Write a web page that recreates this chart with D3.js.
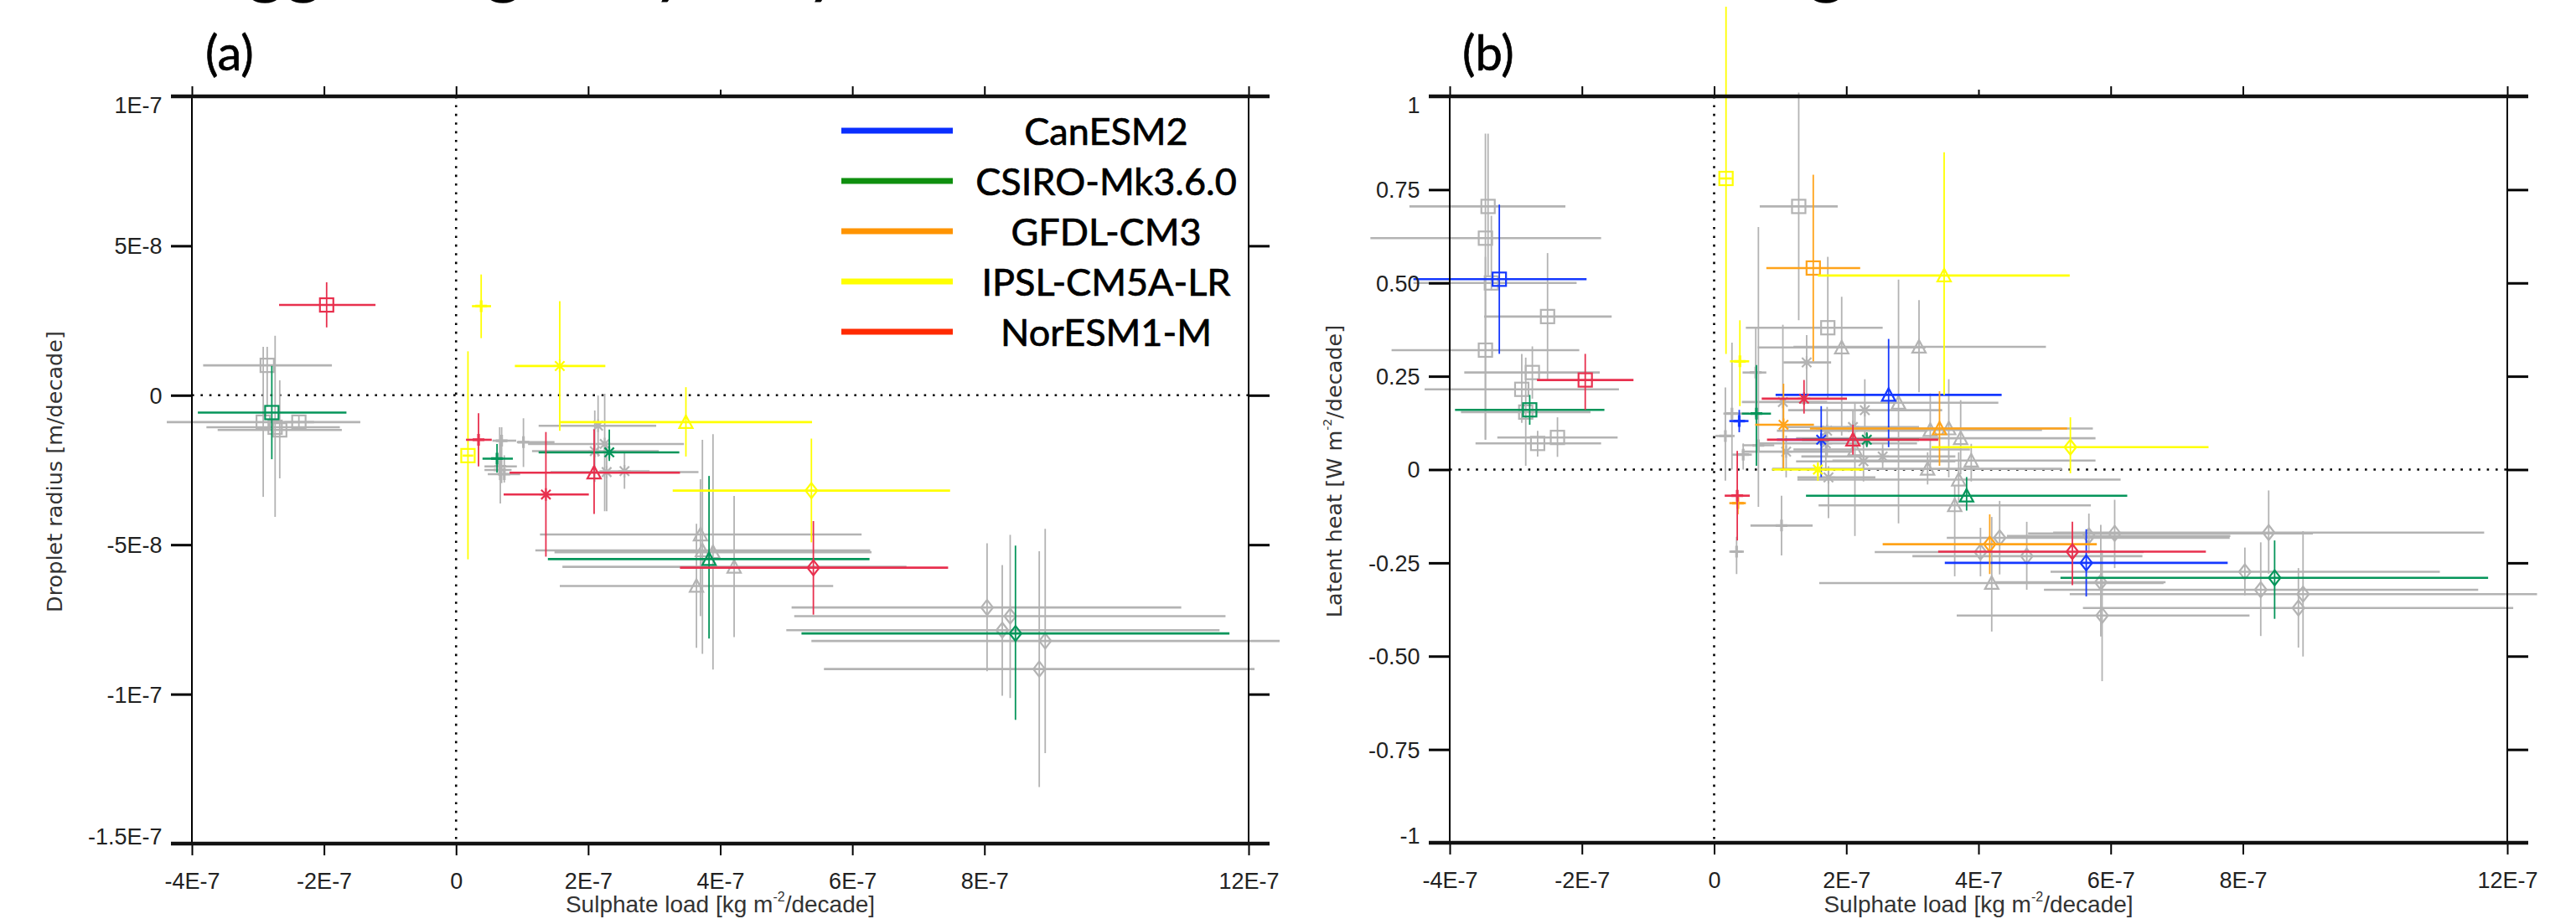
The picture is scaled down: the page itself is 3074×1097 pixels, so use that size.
<!DOCTYPE html>
<html>
<head>
<meta charset="utf-8">
<script src="https://cdn.jsdelivr.net/npm/d3@7"></script>
<style>
  body { margin: 0; background: #fff; }
  svg { display: block; }
</style>
</head>
<body>
<svg id="fig" width="3074" height="1097"></svg>
<script>
// models and colours
const models = ['CanESM2', 'CSIRO-Mk3.6.0', 'GFDL-CM3', 'IPSL-CM5A-LR', 'NorESM1-M'];
const legendColors = ['#0a2eff', '#0f8f0f', '#ff9400', '#ffff00', '#ff2a00'];
const markColors = ['#1538ff', '#05955a', '#ffa31a', '#ffff00', '#e8304e'];
const greyColor = '#b3b3b3';

// x axis: sulphate load, in units of 1E-7
const xTicks = [-4, -2, 0, 2, 4, 6, 8, 12];
const xTickLabels = ['-4E-7', '-2E-7', '0', '2E-7', '4E-7', '6E-7', '8E-7', '12E-7'];

// (a) droplet radius, in units of 1E-8
const yTicksA = [10, 5, 0, -5, -10, -15];
const yTickLabelsA = ['1E-7', '5E-8', '0', '-5E-8', '-1E-7', '-1.5E-7'];
// (b) latent heat
const yTicksB = [1, 0.75, 0.5, 0.25, 0, -0.25, -0.5, -0.75, -1];
const yTickLabelsB = ['1', '0.75', '0.50', '0.25', '0', '-0.25', '-0.50', '-0.75', '-1'];

// rows: model, marker, x, x low, x high, y, y low, y high
const pointsA = [
  ['grey', 'square', -2.86, -3.83, -1.88, 1.00, -0.39, 1.62],
  ['grey', 'square', -2.92, -4.38, -1.45, -0.90, -3.40, 1.62],
  ['grey', 'square', -2.74, -3.78, -1.76, -1.07, -4.07, 1.99],
  ['grey', 'square', -2.67, -3.61, -1.73, -1.16, -2.78, 0.50],
  ['grey', 'square', -2.38, -2.60, -2.15, -0.90, -1.10, -0.70],
  ['grey', 'plus', 0.69, 0.55, 0.91, -1.52, -2.94, -1.07],
  ['grey', 'plus', 1.02, 0.92, 1.49, -1.57, -2.40, -0.77],
  ['grey', 'plus', 0.67, 0.43, 0.92, -2.38, -3.62, -1.63],
  ['grey', 'plus', 0.66, 0.43, 0.84, -2.50, -2.84, -1.07],
  ['grey', 'plus', 0.73, 0.48, 0.97, -2.64, -2.92, -2.01],
  ['grey', 'asterisk', 2.15, 1.25, 3.03, -1.02, -2.05, -0.01],
  ['grey', 'asterisk', 2.25, 1.09, 3.45, -1.63, -3.88, 0.05],
  ['grey', 'asterisk', 2.10, 1.15, 3.07, -1.87, -2.90, -0.51],
  ['grey', 'asterisk', 2.28, 1.43, 3.67, -2.57, -3.88, -1.63],
  ['grey', 'asterisk', 2.55, 2.17, 2.93, -2.54, -3.13, -1.91],
  ['grey', 'triangle', 3.70, 1.27, 6.14, -4.66, -7.39, -2.81],
  ['grey', 'triangle', 3.73, 1.20, 6.27, -5.19, -8.65, -1.49],
  ['grey', 'triangle', 3.89, 1.49, 6.29, -5.25, -9.18, -1.30],
  ['grey', 'triangle', 4.21, 1.61, 6.82, -5.74, -8.09, -3.37],
  ['grey', 'triangle', 3.64, 1.57, 5.71, -6.38, -8.45, -4.30],
  ['grey', 'diamond', 8.04, 5.08, 10.98, -7.10, -9.23, -4.95],
  ['grey', 'diamond', 8.39, 5.12, 11.65, -7.39, -10.13, -4.67],
  ['grey', 'diamond', 8.27, 5.00, 11.56, -7.86, -10.05, -5.68],
  ['grey', 'diamond', 8.92, 5.38, 12.47, -8.22, -11.97, -4.47],
  ['grey', 'diamond', 8.83, 5.57, 12.09, -9.16, -13.11, -5.22],
  ['CSIRO-Mk3.6.0', 'square', -2.79, -3.91, -1.66, -0.58, -2.14, 0.98],
  ['CSIRO-Mk3.6.0', 'plus', 0.62, 0.40, 0.86, -2.12, -2.59, -1.63],
  ['CSIRO-Mk3.6.0', 'asterisk', 2.32, 1.25, 3.38, -1.91, -2.20, -1.15],
  ['CSIRO-Mk3.6.0', 'triangle', 3.83, 1.39, 6.26, -5.48, -8.14, -2.70],
  ['CSIRO-Mk3.6.0', 'diamond', 8.47, 5.23, 11.71, -7.97, -10.86, -5.03],
  ['IPSL-CM5A-LR', 'plus', 0.38, 0.24, 0.53, 2.98, 1.91, 4.04],
  ['IPSL-CM5A-LR', 'square', 0.18, 0.10, 0.26, -2.02, -5.49, 1.47],
  ['IPSL-CM5A-LR', 'asterisk', 1.57, 0.89, 2.26, 0.98, -1.19, 3.15],
  ['IPSL-CM5A-LR', 'triangle', 3.48, 1.57, 5.39, -0.90, -2.05, 0.27],
  ['IPSL-CM5A-LR', 'diamond', 5.38, 3.28, 7.48, -3.19, -4.92, -1.45],
  ['NorESM1-M', 'square', -1.96, -2.68, -1.22, 3.02, 2.27, 3.78],
  ['NorESM1-M', 'plus', 0.34, 0.15, 0.54, -1.49, -2.38, -0.60],
  ['NorESM1-M', 'asterisk', 1.36, 0.72, 2.01, -3.32, -5.40, -1.23],
  ['NorESM1-M', 'triangle', 2.09, 0.81, 3.39, -2.59, -3.97, -1.14],
  ['NorESM1-M', 'diamond', 5.41, 3.39, 7.45, -5.77, -7.34, -4.21]
];

const pointsB = [
  ['grey', 'square', -3.42, -4.61, -2.25, 0.705, 0.52, 0.90],
  ['grey', 'square', -3.46, -5.20, -1.71, 0.62, 0.08, 0.90],
  ['grey', 'square', -3.37, -4.55, -2.08, 0.50, 0.48, 0.68],
  ['grey', 'square', -2.52, -3.48, -1.55, 0.41, 0.24, 0.58],
  ['grey', 'square', -3.46, -4.88, -2.04, 0.32, 0.08, 0.57],
  ['grey', 'square', -2.75, -3.78, -1.73, 0.26, 0.19, 0.33],
  ['grey', 'square', -2.91, -4.38, -1.44, 0.215, 0.125, 0.31],
  ['grey', 'square', -2.85, -3.83, -1.87, 0.154, 0.01, 0.30],
  ['grey', 'square', -2.37, -3.28, -1.46, 0.086, 0.034, 0.14],
  ['grey', 'square', -2.67, -3.61, -1.71, 0.070, 0.035, 0.104],
  ['grey', 'square', 1.28, 0.69, 1.87, 0.705, 0.40, 1.01],
  ['grey', 'square', 1.72, 0.48, 2.55, 0.38, 0.19, 0.57],
  ['grey', 'plus', 0.17, 0.02, 0.31, 0.09, -0.03, 0.22],
  ['grey', 'plus', 0.44, 0.27, 0.57, 0.04, 0.00, 0.07],
  ['grey', 'plus', 0.27, 0.14, 0.53, 0.15, 0.00, 0.34],
  ['grey', 'plus', 0.67, 0.43, 0.91, 0.065, -0.10, 0.65],
  ['grey', 'plus', 0.34, 0.23, 0.45, -0.22, -0.28, -0.18],
  ['grey', 'plus', 1.02, 0.55, 1.49, -0.15, -0.23, -0.07],
  ['grey', 'plus', 0.63, 0.43, 0.79, 0.26, 0.14, 0.38],
  ['grey', 'asterisk', 1.71, 0.95, 3.23, 0.104, 0.035, 0.168],
  ['grey', 'asterisk', 1.69, 0.69, 3.07, 0.070, 0.00, 0.114],
  ['grey', 'asterisk', 2.10, 1.07, 3.10, 0.114, 0.080, 0.159],
  ['grey', 'asterisk', 2.26, 1.24, 3.65, 0.022, -0.032, 0.069],
  ['grey', 'asterisk', 2.55, 1.32, 3.65, 0.035, 0.00, 0.069],
  ['grey', 'asterisk', 1.09, 0.42, 2.09, 0.048, -0.021, 0.091],
  ['grey', 'asterisk', 1.73, 1.26, 2.44, -0.021, -0.13, 0.009],
  ['grey', 'asterisk', 1.40, 1.05, 1.77, 0.287, 0.203, 0.360],
  ['grey', 'asterisk', 1.04, 0.42, 1.71, 0.181, 0.00, 0.388],
  ['grey', 'asterisk', 2.28, 1.12, 3.45, 0.159, 0.091, 0.242],
  ['grey', 'triangle', 1.93, 0.66, 3.20, 0.327, 0.091, 0.463],
  ['grey', 'triangle', 3.10, 1.20, 5.02, 0.329, 0.207, 0.454],
  ['grey', 'triangle', 2.79, 1.29, 4.30, 0.179, -0.144, 0.509],
  ['grey', 'triangle', 3.27, 1.58, 4.96, 0.106, 0.002, 0.204],
  ['grey', 'triangle', 3.55, 1.54, 5.73, 0.110, -0.021, 0.242],
  ['grey', 'triangle', 3.73, 1.24, 5.77, 0.084, -0.013, 0.186],
  ['grey', 'triangle', 3.89, 1.79, 5.77, 0.024, -0.032, 0.069],
  ['grey', 'triangle', 3.23, 0.88, 5.26, 0.002, -0.040, 0.046],
  ['grey', 'triangle', 3.70, 1.26, 6.15, -0.027, -0.088, 0.046],
  ['grey', 'triangle', 3.64, 1.58, 5.70, -0.096, -0.286, -0.044],
  ['grey', 'triangle', 4.20, 1.59, 6.80, -0.304, -0.434, -0.127],
  ['grey', 'triangle', 2.13, 1.20, 3.87, 0.054, -0.178, 0.181],
  ['grey', 'diamond', 4.03, 2.43, 6.50, -0.221, -0.286, -0.156],
  ['grey', 'diamond', 4.32, 3.52, 7.80, -0.183, -0.281, -0.084],
  ['grey', 'diamond', 4.73, 3.00, 6.48, -0.232, -0.322, -0.140],
  ['grey', 'diamond', 5.67, 4.43, 7.81, -0.178, -0.225, -0.118],
  ['grey', 'diamond', 6.06, 4.75, 9.06, -0.171, -0.264, -0.081],
  ['grey', 'diamond', 8.03, 5.09, 10.98, -0.274, -0.337, -0.209],
  ['grey', 'diamond', 8.39, 5.13, 11.65, -0.169, -0.279, -0.056],
  ['grey', 'diamond', 8.27, 4.99, 11.56, -0.322, -0.446, -0.195],
  ['grey', 'diamond', 8.91, 5.38, 12.45, -0.334, -0.501, -0.165],
  ['grey', 'diamond', 8.84, 5.58, 12.09, -0.371, -0.477, -0.264],
  ['grey', 'diamond', 5.85, 4.25, 6.83, -0.302, -0.447, -0.148],
  ['grey', 'diamond', 5.87, 3.67, 8.10, -0.391, -0.567, -0.216],
  ['CanESM2', 'square', -3.25, -4.55, -1.93, 0.51, 0.31, 0.71],
  ['CanESM2', 'plus', 0.38, 0.23, 0.52, 0.13, 0.10, 0.16],
  ['CanESM2', 'asterisk', 1.62, 0.95, 2.28, 0.08, -0.02, 0.17],
  ['CanESM2', 'triangle', 2.64, 0.93, 4.35, 0.20, 0.06, 0.35],
  ['CanESM2', 'diamond', 5.63, 3.49, 7.77, -0.25, -0.34, -0.16],
  ['CSIRO-Mk3.6.0', 'square', -2.79, -3.92, -1.66, 0.16, 0.12, 0.20],
  ['CSIRO-Mk3.6.0', 'plus', 0.64, 0.42, 0.86, 0.15, 0.01, 0.28],
  ['CSIRO-Mk3.6.0', 'asterisk', 2.31, 1.33, 3.10, 0.08, 0.06, 0.10],
  ['CSIRO-Mk3.6.0', 'triangle', 3.82, 1.39, 6.25, -0.07, -0.11, -0.02],
  ['CSIRO-Mk3.6.0', 'diamond', 8.48, 5.24, 11.71, -0.29, -0.40, -0.19],
  ['GFDL-CM3', 'square', 1.50, 0.79, 2.21, 0.54, 0.29, 0.79],
  ['GFDL-CM3', 'plus', 0.36, 0.23, 0.48, -0.09, -0.12, -0.07],
  ['GFDL-CM3', 'asterisk', 1.05, 0.62, 1.51, 0.12, 0.00, 0.23],
  ['GFDL-CM3', 'triangle', 3.41, 1.45, 5.34, 0.11, 0.01, 0.21],
  ['GFDL-CM3', 'diamond', 4.17, 2.55, 5.79, -0.20, -0.28, -0.12],
  ['IPSL-CM5A-LR', 'square', 0.18, 0.09, 0.27, 0.78, 0.31, 1.24],
  ['IPSL-CM5A-LR', 'plus', 0.39, 0.24, 0.53, 0.29, 0.17, 0.40],
  ['IPSL-CM5A-LR', 'asterisk', 1.57, 0.88, 2.26, 0.00, -0.03, 0.02],
  ['IPSL-CM5A-LR', 'triangle', 3.48, 1.57, 5.38, 0.52, 0.20, 0.85],
  ['IPSL-CM5A-LR', 'diamond', 5.39, 3.29, 7.48, 0.06, -0.01, 0.14],
  ['NorESM1-M', 'square', -1.95, -2.68, -1.22, 0.24, 0.16, 0.31],
  ['NorESM1-M', 'plus', 0.35, 0.16, 0.54, -0.07, -0.19, 0.05],
  ['NorESM1-M', 'asterisk', 1.36, 0.72, 2.01, 0.19, 0.15, 0.24],
  ['NorESM1-M', 'triangle', 2.10, 0.80, 3.39, 0.08, 0.04, 0.12],
  ['NorESM1-M', 'diamond', 5.42, 3.39, 7.44, -0.22, -0.31, -0.14]
];

const tickFont = '"Liberation Sans", Arial, Helvetica, sans-serif';
const titleFont = '"DejaVu Sans", Verdana, sans-serif';
const labelFont = 'Lato, "Open Sans", sans-serif';

const svg = d3.select('#fig');

const panels = [
  { left: 229, right: 1490, top: 115, bottom: 1007, yDomain: [-15, 10],
    yTicks: yTicksA, yTickLabels: yTickLabelsA, points: pointsA,
    label: '(a)', labelX: 245, yTitle: ['Droplet radius [m/decade]'], yTitleX: 74, legend: true },
  { left: 1730, right: 2992, top: 115, bottom: 1006, yDomain: [-1, 1],
    yTicks: yTicksB, yTickLabels: yTickLabelsB, points: pointsB,
    label: '(b)', labelX: 1745, yTitle: ['Latent heat [W m', '-2', '/decade]'], yTitleX: 1601, legend: false }
];

function colorOf(m) {
  const i = models.indexOf(m);
  return i < 0 ? greyColor : markColors[i];
}

function drawMarker(g, shape, cx, cy, color) {
  const w = 2.2;
  if (shape === 'square') {
    g.append('rect').attr('x', cx - 8).attr('y', cy - 8).attr('width', 16).attr('height', 16)
      .attr('fill', 'none').attr('stroke', color).attr('stroke-width', w);
  } else if (shape === 'triangle') {
    g.append('path').attr('d', `M${cx},${cy - 8}L${cx + 8},${cy + 7}L${cx - 8},${cy + 7}Z`)
      .attr('fill', 'none').attr('stroke', color).attr('stroke-width', w);
  } else if (shape === 'diamond') {
    g.append('path').attr('d', `M${cx},${cy - 9}L${cx + 7},${cy}L${cx},${cy + 9}L${cx - 7},${cy}Z`)
      .attr('fill', 'none').attr('stroke', color).attr('stroke-width', w);
  } else if (shape === 'plus') {
    g.append('path').attr('d', `M${cx - 7},${cy}H${cx + 7}M${cx},${cy - 7}V${cy + 7}`)
      .attr('stroke', color).attr('stroke-width', 3.2);
  } else if (shape === 'asterisk') {
    const a = 7.5, b = 5.6;
    g.append('path')
      .attr('d', `M${cx - a},${cy}H${cx + a}M${cx},${cy - a}V${cy + a}M${cx - b},${cy - b}L${cx + b},${cy + b}M${cx - b},${cy + b}L${cx + b},${cy - b}`)
      .attr('stroke', color).attr('stroke-width', w);
  }
}

function drawPanel(p) {
  const x = d3.scaleLinear().domain([-4, 12]).range([p.left, p.right]);
  const y = d3.scaleLinear().domain(p.yDomain).range([p.bottom, p.top]);
  const g = svg.append('g');

  // dotted zero lines
  g.append('line').attr('x1', p.left).attr('x2', p.right).attr('y1', y(0)).attr('y2', y(0))
    .attr('stroke', '#000').attr('stroke-width', 2.6).attr('stroke-dasharray', '2.6 7.8');
  g.append('line').attr('x1', x(0)).attr('x2', x(0)).attr('y1', p.top).attr('y2', p.bottom)
    .attr('stroke', '#000').attr('stroke-width', 2.6).attr('stroke-dasharray', '2.6 7.8');

  // grey members first, coloured models on top
  const ordered = p.points.filter(d => d[0] === 'grey').concat(p.points.filter(d => d[0] !== 'grey'));
  const marks = g.append('g');
  ordered.forEach(d => {
    const c = colorOf(d[0]);
    const pg = marks.append('g');
    pg.append('line').attr('x1', x(d[3])).attr('x2', x(d[4])).attr('y1', y(d[5])).attr('y2', y(d[5]))
      .attr('stroke', c).attr('stroke-width', 2.6);
    pg.append('line').attr('x1', x(d[2])).attr('x2', x(d[2])).attr('y1', y(d[6])).attr('y2', y(d[7]))
      .attr('stroke', c).attr('stroke-width', 1.8);
    drawMarker(pg, d[1], x(d[2]), y(d[5]), c);
  });

  // axes
  const bottomAxis = g.append('g').attr('transform', `translate(0,${p.bottom})`)
    .call(d3.axisBottom(x).tickValues(xTicks).tickFormat((d, i) => xTickLabels[i])
      .tickSize(14).tickSizeOuter(0).tickPadding(21));
  const topAxis = g.append('g').attr('transform', `translate(0,${p.top})`)
    .call(d3.axisTop(x).tickValues(xTicks).tickFormat('').tickSize(12).tickSizeOuter(0));
  topAxis.selectAll('.tick').filter(d => d === 4).select('line').attr('y2', -8);
  const leftAxis = g.append('g').attr('transform', `translate(${p.left},0)`)
    .call(d3.axisLeft(y).tickValues(p.yTicks).tickFormat((d, i) => p.yTickLabels[i])
      .tickSize(25).tickSizeOuter(0).tickPadding(10.5));
  const rightAxis = g.append('g').attr('transform', `translate(${p.right},0)`)
    .call(d3.axisRight(y).tickValues(p.yTicks).tickFormat('').tickSize(25).tickSizeOuter(0));

  [bottomAxis, topAxis, leftAxis, rightAxis].forEach(a => {
    a.select('.domain').remove();
    a.attr('font-family', tickFont).attr('font-size', 27);
    a.selectAll('text').attr('fill', '#222');
  });
  bottomAxis.selectAll('line').attr('stroke', '#000').attr('stroke-width', 2);
  topAxis.selectAll('line').attr('stroke', '#000').attr('stroke-width', 2);
  leftAxis.selectAll('line').attr('stroke', '#000').attr('stroke-width', 3);
  rightAxis.selectAll('line').attr('stroke', '#000').attr('stroke-width', 3);
  const n = p.yTicks.length;
  leftAxis.selectAll('text').attr('dy', (d, i) => i === 0 ? '0.71em' : (i === n - 1 ? '0' : '0.35em'));

  // frame: heavy top/bottom, thin sides
  g.append('line').attr('x1', p.left).attr('x2', p.left).attr('y1', p.top).attr('y2', p.bottom)
    .attr('stroke', '#000').attr('stroke-width', 2);
  g.append('line').attr('x1', p.right).attr('x2', p.right).attr('y1', p.top).attr('y2', p.bottom)
    .attr('stroke', '#000').attr('stroke-width', 2);
  [p.top, p.bottom].forEach(yy => {
    g.append('line').attr('x1', p.left - 25).attr('x2', p.right + 25).attr('y1', yy).attr('y2', yy)
      .attr('stroke', '#111').attr('stroke-width', 4.5);
  });

  // axis titles
  const xt = g.append('text').attr('x', (p.left + p.right) / 2).attr('y', 1089)
    .attr('text-anchor', 'middle').attr('font-family', tickFont).attr('font-size', 28).attr('fill', '#333');
  xt.append('tspan').text('Sulphate load [kg m');
  xt.append('tspan').attr('font-size', 16).attr('dy', -13).text('-2');
  xt.append('tspan').attr('dy', 13).text('/decade]');

  const yc = (p.top + p.bottom) / 2 + 2;
  const yt = g.append('text').attr('transform', `translate(${p.yTitleX},${yc}) rotate(-90)`)
    .attr('text-anchor', 'middle').attr('font-family', titleFont).attr('font-size', 25.5).attr('fill', '#333');
  yt.append('tspan').text(p.yTitle[0]);
  if (p.yTitle.length > 1) {
    yt.append('tspan').attr('font-size', 14).attr('dy', -12).text(p.yTitle[1]);
    yt.append('tspan').attr('dy', 12).text(p.yTitle[2]);
  }

  // panel letter
  g.append('text').attr('x', p.labelX).attr('y', 84).attr('font-family', labelFont)
    .attr('font-size', 58).attr('fill', '#000').attr('stroke', '#000').attr('stroke-width', 0.6)
    .text(p.label);

  if (p.legend) {
    const lg = g.append('g');
    models.forEach((m, i) => {
      const ly = 156 + i * 60;
      lg.append('line').attr('x1', 1004).attr('x2', 1137).attr('y1', ly).attr('y2', ly)
        .attr('stroke', legendColors[i]).attr('stroke-width', 7);
      lg.append('text').attr('x', 1320).attr('y', ly + 17).attr('text-anchor', 'middle')
        .attr('font-family', labelFont).attr('font-size', 45).attr('fill', '#000')
        .attr('stroke', '#000').attr('stroke-width', 0.7).text(m);
    });
  }
}

panels.forEach(drawPanel);

// clipped caption line from the page above the figure
const headerBits = [['gg', 294], ['g', 578], ['y', 778], ['y', 961], ['g', 2157]];
svg.append('g').selectAll('text').data(headerBits).join('text')
  .attr('x', d => d[1]).attr('y', -13).attr('font-family', labelFont).attr('font-size', 88)
  .attr('fill', '#000').text(d => d[0]);
</script>
</body>
</html>
